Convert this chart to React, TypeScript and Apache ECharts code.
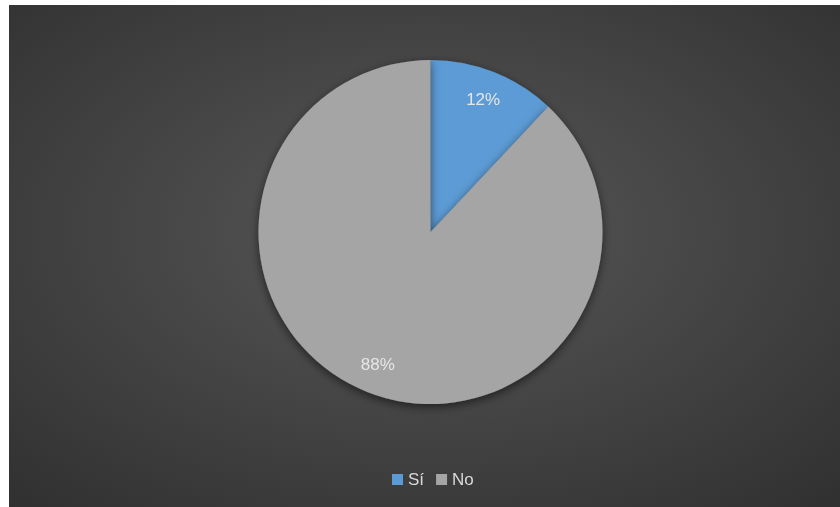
import React, { useEffect, useRef } from "react";
import * as echarts from "echarts";

const categories = ["Sí", "No"];
const values = [12, 88];
const colors = ["#5B9BD5", "#A5A5A5"];

export default function App() {
  const ref = useRef<HTMLDivElement>(null);
  useEffect(() => {
    if (!ref.current) return;
    const chart = echarts.init(ref.current, undefined, { renderer: "svg" });
    const data = categories.map((name, i) => ({
      name,
      value: values[i],
      itemStyle: { color: colors[i] },
    }));
    const font = "'Liberation Sans', Arial, sans-serif";
    chart.setOption({
      animation: false,
      backgroundColor: {
        type: "radial",
        x: 0.5,
        y: 0.45,
        r: 0.95,
        colorStops: [
          { offset: 0, color: "#585858" },
          { offset: 1, color: "#252525" },
        ],
      },
      legend: {
        data: categories,
        left: 383,
        top: 466,
        padding: 0,
        icon: "rect",
        itemWidth: 11,
        itemHeight: 11,
        itemGap: 12,
        textStyle: { color: "#d9d9d9", fontSize: 17, fontFamily: font },
      },
      series: [
        {
          type: "pie",
          center: [421.5, 227],
          radius: [0, 172],
          startAngle: 90,
          clockwise: true,
          data,
          label: { show: false },
          labelLine: { show: false },
          silent: true,
          itemStyle: {
            shadowBlur: 10,
            shadowColor: "rgba(0,0,0,0.55)",
            shadowOffsetY: 3,
          },
        },
        {
          type: "pie",
          center: [421.5, 227],
          radius: [126, 154],
          startAngle: 90,
          clockwise: true,
          data: categories.map((name, i) => ({ name, value: values[i] })),
          itemStyle: { color: "rgba(0,0,0,0)" },
          silent: true,
          legendHoverLink: false,
          label: {
            show: true,
            position: "inside",
            formatter: "{c}%",
            color: "#e6e6e6",
            fontSize: 17,
            fontFamily: font,
          },
          labelLine: { show: false },
        },
      ],
    });
    return () => chart.dispose();
  }, []);
  return (
    <div
      ref={ref}
      style={{ position: "fixed", left: 9, top: 5, width: 831, height: 502 }}
    />
  );
}
